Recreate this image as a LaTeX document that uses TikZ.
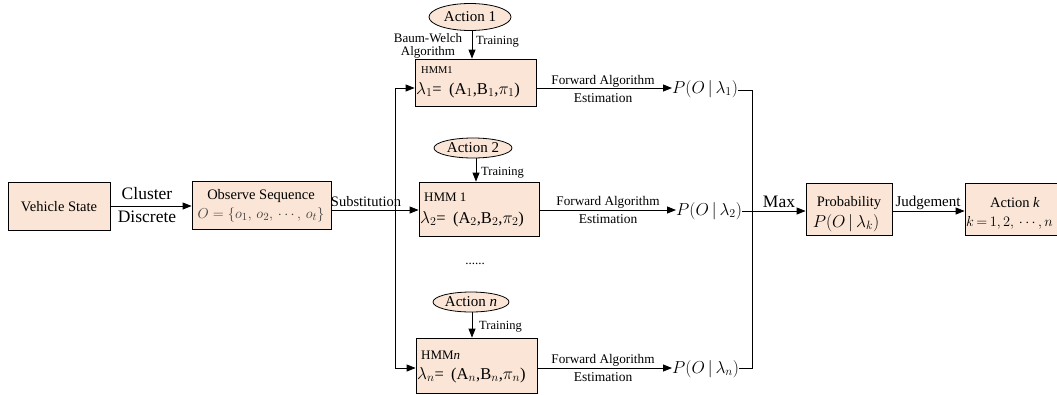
\documentclass[tikz,border=0pt]{standalone}
\usepackage{fontspec}
\setmainfont{Liberation Serif}
\usetikzlibrary{arrows.meta,shapes.geometric}
\definecolor{peach}{HTML}{FBE5D6}
\begin{document}
\begin{tikzpicture}[x=1pt,y=-1pt,
  box/.style={draw,line width=0.8pt,fill=peach,inner sep=0pt},
  act/.style={draw,ellipse,fill=peach,line width=0.8pt,inner sep=0pt},
  arr/.style={-{Triangle[length=9pt,width=7pt]},line width=0.8pt},
  ln/.style={line width=0.8pt},
  lab/.style={inner sep=0pt},
  fs/.style={font=\fontsize{#1}{#1}\selectfont}]
\useasboundingbox (0,0) rectangle (1057,394);
% boxes
\node[box,minimum width=102pt,minimum height=48pt] (vs) at (59,206) {};
\node[box,minimum width=139pt,minimum height=48pt] (obs) at (261.5,205) {};
\node[box,minimum width=121pt,minimum height=47pt] (hmm1) at (475.5,82.5) {};
\node[box,minimum width=120pt,minimum height=54pt] (hmm2) at (479,209) {};
\node[box,minimum width=121pt,minimum height=55pt] (hmmn) at (476.5,365.5) {};
\node[box,minimum width=86pt,minimum height=52pt] (prob) at (849,209) {};
\node[box,minimum width=100pt,minimum height=52pt] (actk) at (1015,209) {};
% ellipses
\node[act,minimum width=82pt,minimum height=27pt] (a1) at (470,17) {};
\node[act,minimum width=78pt,minimum height=20pt] (a2) at (473,148) {};
\node[act,minimum width=76pt,minimum height=20pt] (an) at (471,302) {};
\node[lab,fs=15] (a1t) at (a1) {Action 1};
\node[lab,fs=15] (a2t) at (a2) {Action 2};
\node[lab,fs=15] (ant) at (an) {Action \textit{n}};
% box texts
\node[lab,fs=14.5] (vst) at (59,207) {Vehicle State};
\node[lab,fs=14.5] (obst) at (261,196) {Observe Sequence};
\node[lab,fs=15,text=black!75] (obsf) at (261,215) {$O=\{o_1,\,o_2,\,\cdots,\,o_t\}$};
\node[lab,fs=10.5,anchor=west] (h1t) at (421,70) {HMM1};
\node[lab,fs=16.5,anchor=west] (h1f) at (416,90) {$\lambda_1$=\;\,(A$_1$,B$_1$,$\pi_1$)};
\node[lab,fs=13,anchor=west] (h2t) at (424,197) {HMM 1};
\node[lab,fs=16.5,anchor=west] (h2f) at (420,219) {$\lambda_2$=\;\,(A$_2$,B$_2$,$\pi_2$)};
\node[lab,fs=13,anchor=west] (hnt) at (421,355) {HMM\textit{n}};
\node[lab,fs=16.5,anchor=west] (hnf) at (417,375) {$\lambda_n$=\;\,(A$_n$,B$_n$,$\pi_n$)};
\node[lab,fs=14.5] (probt) at (849,203) {Probability};
\node[lab,fs=16.5] (probf) at (846,223) {$P(O\,|\,\lambda_k)$};
\node[lab,fs=14.5] (actkt) at (1015,203) {Action \textit{k}};
\node[lab,fs=15.5,anchor=west] (actkf) at (966,223) {$k\mkern3mu{=}\mkern3mu1{,}\,2{,}\,\cdots{,}\,n$};
% P labels
\node[lab,fs=17,anchor=west] (p1) at (672,89) {$P(O\,|\,\lambda_1)$};
\node[lab,fs=17,anchor=west] (p2) at (676,211) {$P(O\,|\,\lambda_2)$};
\node[lab,fs=17,anchor=west] (pn) at (672,369) {$P(O\,|\,\lambda_n)$};
% edge labels
\node[lab,fs=17.5] (cl) at (147,194) {Cluster};
\node[lab,fs=17.5] (di) at (147,217) {Discrete};
\node[lab,fs=14.5] (sub) at (366,202) {Substitution};
\node[lab,fs=13,align=center] (bw) at (428,46) {Baum-Welch\\Algorithm};
\node[lab,fs=12.5,anchor=west] (tr1) at (476,42) {Training};
\node[lab,fs=12.5,anchor=west] (tr2) at (481,173) {Training};
\node[lab,fs=12.5,anchor=west] (trn) at (479,327) {Training};
\node[lab,fs=13.2] (fa1) at (603,81) {Forward Algorithm};
\node[lab,fs=13.5] (es1) at (603,98) {Estimation};
\node[lab,fs=13.2] (fa2) at (608,202) {Forward Algorithm};
\node[lab,fs=13.5] (es2) at (608,219) {Estimation};
\node[lab,fs=13.2] (fan) at (603,360) {Forward Algorithm};
\node[lab,fs=13.5] (esn) at (603,377) {Estimation};
\node[lab,fs=17.5] (mx) at (779,202) {Max};
\node[lab,fs=15] (jd) at (928,203) {Judgement};
\node[lab,fs=13] (dots) at (475,264) {......};
% connectors
\coordinate (bt) at (395,88);
\coordinate (bb) at (395,368);
\coordinate (rt) at (752,90);
\coordinate (rb) at (752,368);
\draw[arr] (vs.east) -- (obs.west|-vs.east);
\draw[arr] (obs.east|-0,210) -- (hmm2.west|-0,210);
\draw[ln] (bt) -- (bb);
\draw[arr] (bt) -- (hmm1.west|-bt);
\draw[arr] (bb) -- (hmmn.west|-bb);
\draw[arr] (a1.south-|472,0) -- (hmm1.north-|472,0);
\draw[arr] (a2.south-|476,0) -- (hmm2.north-|476,0);
\draw[arr] (an.south-|472,0) -- (hmmn.north-|472,0);
\draw[arr] (hmm1.east|-bt) -- (p1.west|-bt);
\draw[arr] (hmm2.east|-0,210) -- (p2.west|-0,210);
\draw[arr] (hmmn.east|-bb) -- (pn.west|-bb);
\draw[ln] (p1.east|-rt) -- (rt) -- (rb) -- (pn.east|-rb);
\draw[arr] (p2.east|-0,211) -- (prob.west|-0,211);
\draw[arr] (prob.east|-0,211) -- (actk.west|-0,211);
\end{tikzpicture}
\end{document}
